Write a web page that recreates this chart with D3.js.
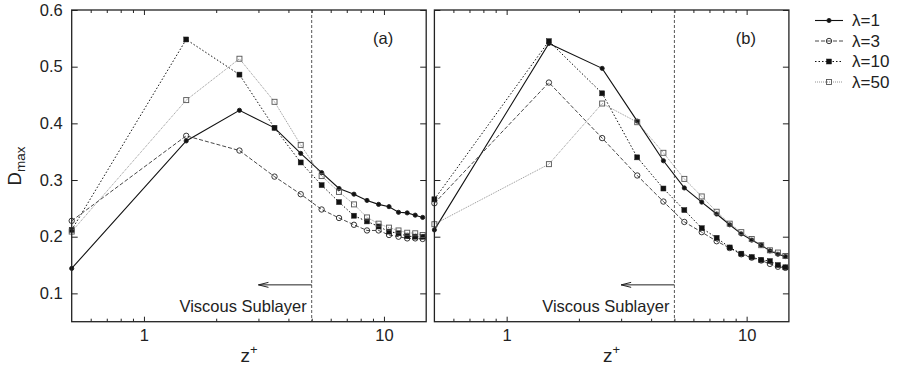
<!DOCTYPE html>
<html>
<head>
<meta charset="utf-8">
<script src="https://cdn.jsdelivr.net/npm/d3@7"></script>
<style>
  body { margin: 0; background: #fff; }
  text { font-family: "Liberation Sans", Arial, Helvetica, sans-serif; fill: #222; }
</style>
</head>
<body>
<svg id="chart" width="898" height="367"></svg>
<script>
'use strict';

// wall distance (grid cell centres)
var zPlus = [0.5, 1.5, 2.5, 3.5, 4.5, 5.5, 6.5, 7.5, 8.5, 9.5, 10.5, 11.5, 12.5, 13.5, 14.5];

var seriesNames = ["λ=1", "λ=3", "λ=10", "λ=50"];

// panel (a)
var a_lam1  = [0.144, 0.369, 0.423, 0.392, 0.347, 0.313, 0.285, 0.275, 0.264, 0.257, 0.253, 0.243, 0.242, 0.238, 0.234];
var a_lam3  = [0.228, 0.378, 0.352, 0.306, 0.275, 0.248, 0.233, 0.221, 0.211, 0.211, 0.203, 0.200, 0.197, 0.197, 0.196];
var a_lam10 = [0.212, 0.548, 0.486, 0.392, 0.331, 0.291, 0.261, 0.237, 0.227, 0.218, 0.209, 0.206, 0.201, 0.200, 0.200];
var a_lam50 = [0.209, 0.441, 0.514, 0.438, 0.362, 0.307, 0.279, 0.257, 0.234, 0.223, 0.216, 0.211, 0.207, 0.206, 0.203];

// panel (b)
var b_lam1  = [0.212, 0.541, 0.497, 0.404, 0.334, 0.286, 0.261, 0.240, 0.221, 0.205, 0.194, 0.185, 0.175, 0.169, 0.165];
var b_lam3  = [0.259, 0.472, 0.374, 0.308, 0.262, 0.226, 0.208, 0.192, 0.180, 0.169, 0.163, 0.158, 0.152, 0.147, 0.145];
var b_lam10 = [0.266, 0.545, 0.453, 0.340, 0.285, 0.247, 0.215, 0.198, 0.181, 0.170, 0.164, 0.159, 0.157, 0.150, 0.146];
var b_lam50 = [0.222, 0.328, 0.435, 0.402, 0.348, 0.302, 0.271, 0.244, 0.223, 0.208, 0.196, 0.185, 0.176, 0.172, 0.166];

var xTicks = [1, 10];
var xMinorTicks = [0.6, 0.7, 0.8, 0.9, 2, 3, 4, 5, 6, 7, 8, 9];
var yTicks = [0.1, 0.2, 0.3, 0.4, 0.5, 0.6];
var xDomain = [0.5, 15];
var yDomain = [0.05, 0.6];
var sublayerEdge = 5;      // z+ of viscous sublayer edge
var arrowFrom = 5, arrowTo = 3, arrowAt = 0.115;

// line / marker styles, same order as seriesNames
var styles = [
  { stroke: "#111", width: 1.1, dash: null,  marker: "circle", fill: "#111", size: 2.1 },
  { stroke: "#333", width: 0.9, dash: "4,2", marker: "circle", fill: "none", size: 2.7 },
  { stroke: "#111", width: 1.0, dash: "1.5,2", marker: "square", fill: "#111", size: 5 },
  { stroke: "#777", width: 0.8, dash: "1,1", marker: "square", fill: "none", size: 5 }
];

var panels = [
  { label: "(a)", left: 71.7, showY: true,  data: [a_lam1, a_lam3, a_lam10, a_lam50] },
  { label: "(b)", left: 434.4, showY: false, data: [b_lam1, b_lam3, b_lam10, b_lam50] }
];

var panelW = 354.5, plotTop = 10, plotBottom = 321.7;
var svg = d3.select("#chart");

var y = d3.scaleLinear().domain(yDomain).range([plotBottom, plotTop]);

function drawMarker(g, st, cx, cy, stroke) {
  if (st.marker == "circle") {
    g.append("circle").attr("cx", cx).attr("cy", cy).attr("r", st.size)
      .attr("fill", st.fill).attr("stroke", stroke).attr("stroke-width", 0.9);
  } else {
    var s = st.size;
    g.append("rect").attr("x", cx - s/2).attr("y", cy - s/2).attr("width", s).attr("height", s)
      .attr("fill", st.fill).attr("stroke", stroke).attr("stroke-width", st.fill == "none" ? 0.9 : 0.5);
  }
}

panels.forEach(function(p) {
  var x = d3.scaleLog().domain(xDomain).range([p.left, p.left + panelW]);
  var g = svg.append("g");

  // ticks (inward) on all sides
  g.append("g").attr("transform", "translate(0," + plotBottom + ")")
    .call(d3.axisBottom(x).tickValues(xTicks).tickSize(-5).tickPadding(8).tickFormat(d3.format("d")))
    .call(function(a) { a.select(".domain").remove(); a.selectAll("text").style("font-size", "16.5px").attr("fill", "#222"); });
  g.append("g").attr("transform", "translate(0," + plotBottom + ")")
    .call(d3.axisBottom(x).tickValues(xMinorTicks).tickSize(-3).tickFormat(""))
    .call(function(a) { a.select(".domain").remove(); });
  g.append("g").attr("transform", "translate(0," + plotTop + ")")
    .call(d3.axisTop(x).tickValues(xTicks).tickSize(-5).tickFormat(""))
    .call(function(a) { a.select(".domain").remove(); });
  g.append("g").attr("transform", "translate(0," + plotTop + ")")
    .call(d3.axisTop(x).tickValues(xMinorTicks).tickSize(-3).tickFormat(""))
    .call(function(a) { a.select(".domain").remove(); });

  var yl = g.append("g").attr("transform", "translate(" + p.left + ",0)")
    .call(d3.axisLeft(y).tickValues(yTicks).tickSize(-6).tickPadding(9).tickFormat(d3.format(".1f")));
  yl.select(".domain").remove();
  yl.selectAll("text").style("font-size", "16.5px").attr("fill", "#222");
  if (!p.showY) yl.selectAll("text").remove();
  g.append("g").attr("transform", "translate(" + (p.left + panelW) + ",0)")
    .call(d3.axisRight(y).tickValues(yTicks).tickSize(-6).tickFormat(""))
    .call(function(a) { a.select(".domain").remove(); });
  g.selectAll(".tick line").attr("stroke", "#222");

  // viscous sublayer edge
  g.append("line").attr("x1", x(sublayerEdge)).attr("x2", x(sublayerEdge))
    .attr("y1", plotTop).attr("y2", plotBottom)
    .attr("stroke", "#555").attr("stroke-width", 1).attr("stroke-dasharray", "3,2");

  // arrow
  var ay = y(arrowAt), ax0 = x(arrowFrom), ax1 = x(arrowTo);
  g.append("line").attr("x1", ax0).attr("x2", ax1).attr("y1", ay).attr("y2", ay)
    .attr("stroke", "#222").attr("stroke-width", 1);
  g.append("path").attr("d", "M" + (ax1 + 10) + "," + (ay - 2.5) + "L" + ax1 + "," + ay + "L" + (ax1 + 10) + "," + (ay + 2.5))
    .attr("fill", "none").attr("stroke", "#222").attr("stroke-width", 1);

  g.append("text").attr("x", x(sublayerEdge) - 5).attr("y", 312)
    .attr("text-anchor", "end").style("font-size", "16.5px").text("Viscous Sublayer");

  // series
  var line = d3.line().x(function(d) { return x(d[0]); }).y(function(d) { return y(d[1]); });
  p.data.forEach(function(vals, i) {
    var st = styles[i];
    var pts = zPlus.map(function(z, k) { return [z, vals[k]]; });
    g.append("path").datum(pts).attr("d", line)
      .attr("fill", "none").attr("stroke", st.stroke).attr("stroke-width", st.width)
      .attr("stroke-dasharray", st.dash);
    var mg = g.append("g");
    pts.forEach(function(d) { drawMarker(mg, st, x(d[0]), y(d[1]), i == 3 ? "#555" : "#222"); });
  });

  // frame
  g.append("rect").attr("x", p.left).attr("y", plotTop).attr("width", panelW).attr("height", plotBottom - plotTop)
    .attr("fill", "none").attr("stroke", "#222").attr("stroke-width", 1.3);

  g.append("text").attr("x", p.left + panelW - 33).attr("y", 43.5)
    .attr("text-anchor", "end").style("font-size", "16.5px").text(p.label);

  // x label
  var xl = g.append("text").attr("x", p.left + panelW / 2).attr("y", 362)
    .attr("text-anchor", "middle").style("font-size", "19px");
  xl.append("tspan").text("z");
  xl.append("tspan").attr("dy", -8).style("font-size", "13px").text("+");
});

// y label
var ylab = svg.append("text").attr("transform", "translate(21,166) rotate(-90)")
  .attr("text-anchor", "middle").style("font-size", "18.5px");
ylab.append("tspan").text("D");
ylab.append("tspan").attr("dy", 3.5).style("font-size", "13.5px").text("max");

// legend
var legend = svg.append("g");
seriesNames.forEach(function(name, i) {
  var st = styles[i];
  var ly = 20.5 + i * 20.5;
  legend.append("line").attr("x1", 815).attr("x2", 843).attr("y1", ly).attr("y2", ly)
    .attr("stroke", st.stroke).attr("stroke-width", st.width).attr("stroke-dasharray", st.dash);
  drawMarker(legend, st, 829, ly, i == 3 ? "#555" : "#222");
  legend.append("text").attr("x", 852).attr("y", ly).attr("dy", "0.35em")
    .style("font-size", "17px").text(name);
});
</script>
</body>
</html>
